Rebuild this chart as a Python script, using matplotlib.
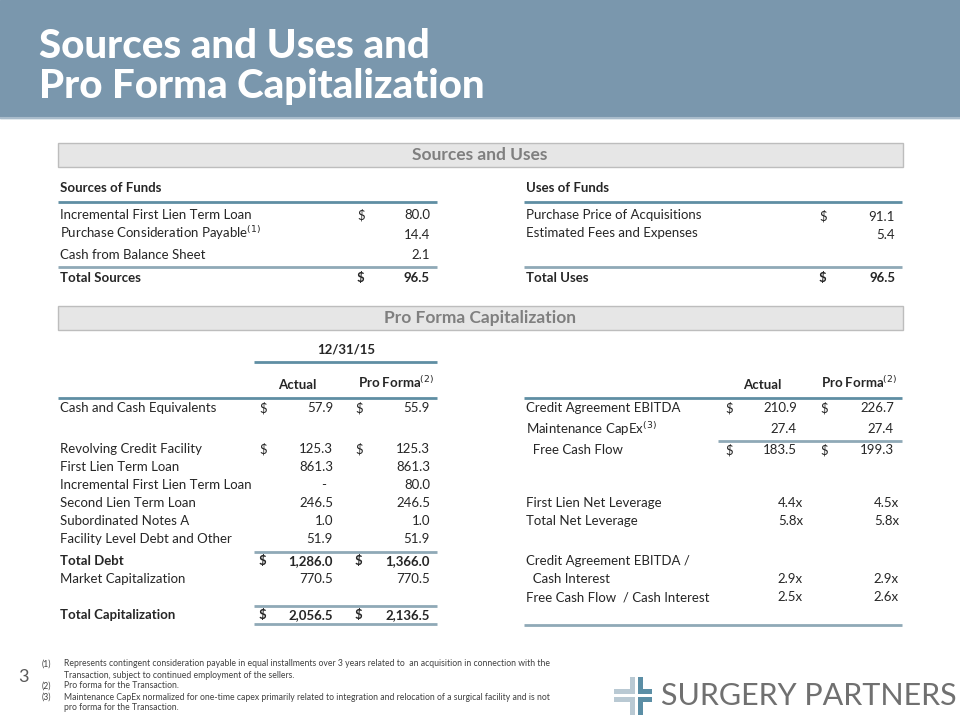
import matplotlib.pyplot as plt
from matplotlib.patches import Rectangle

plt.rcParams['font.family'] = ['Lato', 'DejaVu Sans']

# ---- data ----
title_lines = ["Sources and Uses and", "Pro Forma Capitalization"]

sources_labels = ["Incremental First Lien Term Loan", "Purchase Consideration Payable$^{(1)}$",
                  "Cash from Balance Sheet"]
sources_values = ["80.0", "14.4", "2.1"]
sources_total = "96.5"

uses_labels = ["Purchase Price of Acquisitions", "Estimated Fees and Expenses"]
uses_values = ["91.1", "5.4"]
uses_total = "96.5"

cap_labels = ["Cash and Cash Equivalents", "Revolving Credit Facility", "First Lien Term Loan",
              "Incremental First Lien Term Loan", "Second Lien Term Loan", "Subordinated Notes A",
              "Facility Level Debt and Other", "Total Debt", "Market Capitalization",
              "Total Capitalization"]
cap_actual = ["57.9", "125.3", "861.3", "-", "246.5", "1.0", "51.9", "1,286.0", "770.5", "2,056.5"]
cap_proforma = ["55.9", "125.3", "861.3", "80.0", "246.5", "1.0", "51.9", "1,366.0", "770.5", "2,136.5"]
cap_dollar = [True, True, False, False, False, False, False, True, False, True]
cap_bold = [False, False, False, False, False, False, False, True, False, True]
cap_rows_y = [408, 449, 467, 485, 503, 521, 539, 561, 579, 615]

stat_labels = ["Credit Agreement EBITDA", "Maintenance CapEx$^{(3)}$", "  Free Cash Flow",
               "First Lien Net Leverage", "Total Net Leverage", "Credit Agreement EBITDA /",
               "  Cash Interest", "Free Cash Flow  / Cash Interest"]
stat_actual = ["210.9", "27.4", "183.5", "4.4x", "5.8x", "", "2.9x", "2.5x"]
stat_proforma = ["226.7", "27.4", "199.3", "4.5x", "5.8x", "", "2.9x", "2.6x"]
stat_dollar = [True, False, True, False, False, False, False, False]
stat_rows_y = [408, 429, 450, 503, 521, 561, 579, 597]

footnotes = [
    ("(1)", "Represents contingent consideration payable in equal installments over 3 years related to  an acquisition in connection with the"),
    ("", "Transaction, subject to continued employment of the sellers."),
    ("(2)", "Pro forma for the Transaction."),
    ("(3)", "Maintenance CapEx normalized for one-time capex primarily related to integration and relocation of a surgical facility and is not"),
    ("", "pro forma for the Transaction."),
]

TXT = "#262626"
TEAL = "#5F8EA3"
GREY_LINE = "#8FA9B7"
FS = 9.5

fig = plt.figure(figsize=(9.6, 7.2), dpi=100)
ax = fig.add_axes([0, 0, 1, 1])
ax.set_xlim(0, 960)
ax.set_ylim(720, 0)
ax.axis("off")

# header band
ax.add_patch(Rectangle((0, 0), 960, 118, color="#7A97AD", zorder=0))
ax.plot([0, 960], [118, 118], color="#A9BCCB", lw=1.5)
for i, line in enumerate(title_lines):
    ax.text(39, 58 + 40 * i, line, color="white", fontsize=29, fontweight="black", va="baseline")


def section_bar(y, label):
    ax.add_patch(Rectangle((58, y), 845, 24, facecolor="#E6E6E6", edgecolor="#BDBDBD", lw=1))
    ax.text(480, y + 12.5, label, ha="center", va="center", color="#7F7F7F",
            fontsize=12.5, fontweight="bold")


def hline(x0, x1, y, color=TEAL, lw=2):
    ax.plot([x0, x1], [y, y], color=color, lw=lw, solid_capstyle="butt")


section_bar(143, "Sources and Uses")
section_bar(306, "Pro Forma Capitalization")

# sources of funds
ax.text(60, 188, "Sources of Funds", fontsize=FS, fontweight="bold", color=TXT, va="center")
hline(58, 437, 202)
for lab, val, y in zip(sources_labels, sources_values, [215, 233, 255]):
    ax.text(60, y, lab, fontsize=FS, color=TXT, va="center")
    ax.text(430, y + (2 if y == 233 else 0), val, fontsize=FS, color=TXT, va="center", ha="right")
ax.text(357, 215, "$", fontsize=FS, color=TXT, va="center")
hline(58, 437, 267, GREY_LINE)
ax.text(60, 278, "Total Sources", fontsize=FS, fontweight="bold", color=TXT, va="center")
ax.text(357, 278, "$", fontsize=FS, fontweight="bold", color=TXT, va="center")
ax.text(430, 278, sources_total, fontsize=FS, fontweight="bold", color=TXT, va="center", ha="right")

# uses of funds
ax.text(526, 188, "Uses of Funds", fontsize=FS, fontweight="bold", color=TXT, va="center")
hline(524, 902, 202)
for lab, val, y in zip(uses_labels, uses_values, [215, 233]):
    ax.text(526, y, lab, fontsize=FS, color=TXT, va="center")
    ax.text(895, y + 2, val, fontsize=FS, color=TXT, va="center", ha="right")
ax.text(819, 216, "$", fontsize=FS, color=TXT, va="center")
hline(524, 902, 267, GREY_LINE)
ax.text(526, 278, "Total Uses", fontsize=FS, fontweight="bold", color=TXT, va="center")
ax.text(819, 278, "$", fontsize=FS, fontweight="bold", color=TXT, va="center")
ax.text(895, 278, uses_total, fontsize=FS, fontweight="bold", color=TXT, va="center", ha="right")

# capitalization table headers
ax.text(346, 350, "12/31/15", fontsize=FS, fontweight="bold", color=TXT, va="center", ha="center")
hline(254, 437, 362)
for xa, xp in [(297, 396), (762, 859)]:
    ax.text(xa, 385, "Actual", fontsize=FS, fontweight="bold", color=TXT, va="center", ha="center")
    ax.text(xp, 382, "Pro Forma$^{(2)}$", fontsize=FS, fontweight="bold", color=TXT,
            va="center", ha="center")
hline(58, 437, 398)
hline(524, 902, 398)

# left capitalization table
for lab, a, p, d, b, y in zip(cap_labels, cap_actual, cap_proforma, cap_dollar, cap_bold, cap_rows_y):
    w = "bold" if b else "normal"
    ax.text(60, y, lab, fontsize=FS, fontweight=w, color=TXT, va="center")
    ax.text(333 if a != "-" else 326, y, a, fontsize=FS, fontweight=w, color=TXT, va="center",
            ha="right")
    ax.text(430, y, p, fontsize=FS, fontweight=w, color=TXT, va="center", ha="right")
    if d:
        ax.text(259, y, "$", fontsize=FS, fontweight=w, color=TXT, va="center")
        ax.text(355, y, "$", fontsize=FS, fontweight=w, color=TXT, va="center")
hline(254, 437, 552, GREY_LINE)
hline(254, 437, 606, GREY_LINE)
hline(254, 437, 624, GREY_LINE)

# right statistics table
for lab, a, p, d, y in zip(stat_labels, stat_actual, stat_proforma, stat_dollar, stat_rows_y):
    ax.text(526, y, lab, fontsize=FS, color=TXT, va="center")
    xa, xp = (797, 894) if not a.endswith("x") else (803, 899)
    ax.text(xa, y, a, fontsize=FS, color=TXT, va="center", ha="right")
    ax.text(xp, y, p, fontsize=FS, color=TXT, va="center", ha="right")
    if d:
        ax.text(725, y, "$", fontsize=FS, color=TXT, va="center")
        ax.text(820, y, "$", fontsize=FS, color=TXT, va="center")
hline(718, 902, 441, GREY_LINE)
hline(524, 902, 625, GREY_LINE)

# footnotes
ax.text(18, 677, "3", fontsize=13, color="#595959", va="center")
for i, (num, txt) in enumerate(footnotes):
    y = 664 + 11 * i
    ax.text(42, y, num, fontsize=6.2, color="#404040", va="center")
    ax.text(64, y, txt, fontsize=6.2, color="#404040", va="center")

# logo
LIGHT = "#B9C9D3"
DARK = "#5B8EA5"
for x, y, w, h, c in [(630, 677, 5, 17, LIGHT), (614, 689, 21, 5, LIGHT),
                      (638, 677, 5, 17, DARK), (638, 689, 14, 5, DARK),
                      (630, 697, 5, 18, LIGHT), (614, 697, 21, 5, LIGHT),
                      (638, 697, 5, 18, DARK), (638, 697, 14, 5, DARK)]:
    ax.add_patch(Rectangle((x, y), w, h, color=c, lw=0))
ax.text(661, 696, "SURGERY PARTNERS", fontsize=22, color="#707070", va="center")

fig.savefig("out.png", dpi=100)
